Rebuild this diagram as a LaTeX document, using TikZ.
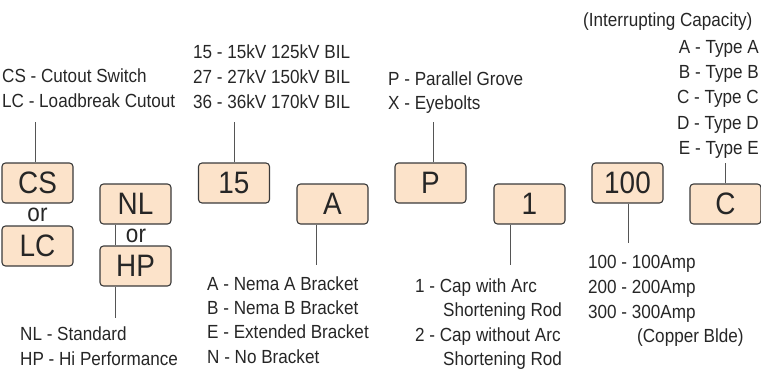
\documentclass[tikz,border=0pt]{standalone}
\usepackage{fontspec}
\setmainfont{Liberation Sans}[FakeStretch=0.9]
\definecolor{peach}{HTML}{FCE3CA}
\definecolor{bord}{HTML}{3A3A3A}
\definecolor{txt}{HTML}{262626}
\definecolor{ln}{HTML}{555555}
\begin{document}
\begin{tikzpicture}[x=1pt,y=-1pt,
  box/.style={draw=bord,line width=1.1pt,fill=peach,rounded corners=3.5pt,
    minimum width=71pt,minimum height=40pt,inner sep=0pt,text=txt,
    font=\fontsize{31}{31}\selectfont},
  ortxt/.style={inner sep=0pt,anchor=base,text=txt,font=\fontsize{25}{25}\selectfont},
  lbl/.style={inner sep=0pt,anchor=base west,text=txt,font=\fontsize{19}{25}\selectfont},
  conn/.style={draw=ln,line width=0.9pt}]
\useasboundingbox (0,0) rectangle (761,369);
% boxes
\node[box] (cs) at (37.5,183) {CS};
\node[box] (lc) at (37.5,246) {LC};
\node[box] (nl) at (135.5,204) {NL};
\node[box] (hp) at (135.5,266) {HP};
\node[box] (kv) at (234,183) {15};
\node[box] (br) at (332.5,204) {A};
\node[box] (tp) at (430.5,183) {P};
\node[box] (cap) at (529.5,204) {1};
\node[box] (amp) at (627.5,183) {100};
\node[box] (ic) at (725.5,204) {C};
\node[ortxt] (or1) at (37.5,221) {or};
\node[ortxt] (or2) at (136,242) {or};
% connector ends
\coordinate (csT) at (35,122);
\coordinate (nlX) at (115,0);
\coordinate (hpB) at (115,318);
\coordinate (kvT) at (234,122);
\coordinate (brB) at (316,265);
\coordinate (tpT) at (433,122);
\coordinate (capB) at (510,265);
\coordinate (ampB) at (628,243);
\coordinate (icT) at (725,163);
\draw[conn] (cs.north -| csT) -- (csT);
\draw[conn] (nl.south -| nlX) -- (hp.north -| nlX);
\draw[conn] (hp.south -| hpB) -- (hpB);
\draw[conn] (kv.north) -- (kvT);
\draw[conn] (br.south -| brB) -- (brB);
\draw[conn] (tp.north -| tpT) -- (tpT);
\draw[conn] (cap.south -| capB) -- (capB);
\draw[conn] (amp.south -| ampB) -- (ampB);
\draw[conn] (ic.north -| icT) -- (icT);
% labels
\foreach \t [count=\i] in {CS - Cutout Switch,LC - Loadbreak Cutout}
  \node[lbl,name=csl\i] at (2,82.5+24.5*\i-24.5) {\t};
\foreach \t [count=\i] in {NL - Standard,HP - Hi Performance}
  \node[lbl,name=nll\i] at (20,340+25*\i-25) {\t};
\foreach \t [count=\i] in {15 - 15kV 125kV BIL,27 - 27kV 150kV BIL,36 - 36kV 170kV BIL}
  \node[lbl,name=kvl\i] at (193,59+24.5*\i-24.5) {\t};
\foreach \t [count=\i] in {A - Nema A Bracket,B - Nema B Bracket,E - Extended Bracket,N - No Bracket}
  \node[lbl,name=brl\i] at (207,290+24.4*\i-24.4) {\t};
\foreach \t [count=\i] in {P - Parallel Grove,X - Eyebolts}
  \node[lbl,name=tpl\i] at (388,85+25*\i-25) {\t};
\node[lbl] (capl1) at (415,292) {1 - Cap with Arc};
\node[lbl] (capl2) at (443,316.5) {Shortening Rod};
\node[lbl] (capl3) at (415,341) {2 - Cap without Arc};
\node[lbl] (capl4) at (443,365.5) {Shortening Rod};
\foreach \t [count=\i] in {100 - 100Amp,200 - 200Amp,300 - 300Amp}
  \node[lbl,name=ampl\i] at (588,268+25*\i-25) {\t};
\node[lbl] (ampl4) at (637,342) {(Copper Blde)};
\node[lbl] (ich) at (583,27) {(Interrupting Capacity)};
\foreach \t [count=\i] in {A - Type A,B - Type B,C - Type C,D - Type D,E - Type E}
  \node[lbl,anchor=base east,name=icl\i] at (759,53.5+25.2*\i-25.2) {\t};
\end{tikzpicture}
\end{document}
